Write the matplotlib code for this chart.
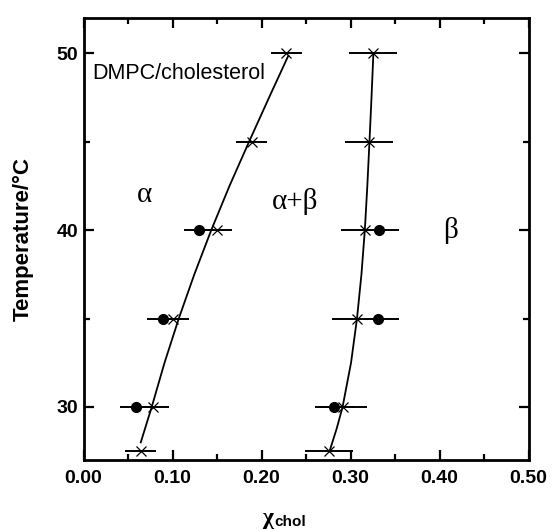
import matplotlib.pyplot as plt
from matplotlib.ticker import MultipleLocator

# boundary points (x marks with error bars)
temp = [27.5, 30, 35, 40, 45, 50]
left_x = [0.064, 0.0785, 0.101, 0.150, 0.189, 0.228]
left_err = [0.017, 0.018, 0.017, 0.017, 0.0175, 0.017]
right_x = [0.2755, 0.291, 0.3076, 0.3163, 0.321, 0.3256]
right_err = [0.027, 0.027, 0.0286, 0.027, 0.027, 0.027]

# filled circles
circ_temp = [30, 35, 40]
circ_left = [0.059, 0.0897, 0.130]
circ_left_err = [0.018, 0.018, 0.017]
circ_right = [0.2815, 0.331, 0.332]
circ_right_err = [0.022, 0.023, 0.022]

# boundary curves
curve_t = [28.0, 30, 32.5, 35, 37.5, 40, 42.5, 45, 47.5, 49.85]
curve_left = [0.0643, 0.0766, 0.091, 0.107, 0.1245, 0.1435, 0.164, 0.186, 0.2085, 0.230]
curve_t2 = [27.6, 28.8, 30, 32.5, 35, 37.5, 40, 42.5, 45, 47.5, 50]
curve_right = [0.277, 0.2845, 0.291, 0.3005, 0.3072, 0.3122, 0.316, 0.3188, 0.3212, 0.3235, 0.3256]

fig = plt.figure(figsize=(5.55, 5.3), dpi=100)
ax = fig.add_axes([0.1505, 0.132, 0.802, 0.8345])

ax.plot(curve_left, curve_t, color='black', linewidth=1.3)
ax.plot(curve_right, curve_t2, color='black', linewidth=1.3)

for xs, ts, es in [(left_x, temp, left_err), (right_x, temp, right_err),
				   (circ_left, circ_temp, circ_left_err), (circ_right, circ_temp, circ_right_err)]:
	ax.errorbar(xs, ts, xerr=es, fmt='none', ecolor='black', elinewidth=1.4, capsize=0)

ax.plot(left_x, temp, linestyle='none', marker='x', color='black', markersize=7.5, markeredgewidth=0.9)
ax.plot(right_x, temp, linestyle='none', marker='x', color='black', markersize=7.5, markeredgewidth=0.9)
ax.plot(circ_left, circ_temp, 'o', color='black', markersize=7)
ax.plot(circ_right, circ_temp, 'o', color='black', markersize=7)

ax.set_xlim(0, 0.5)
ax.set_ylim(27, 52)
ax.xaxis.set_minor_locator(MultipleLocator(0.05))
ax.yaxis.set_major_locator(MultipleLocator(10))
ax.yaxis.set_minor_locator(MultipleLocator(5))
ax.set_xticks([0, 0.1, 0.2, 0.3, 0.4, 0.5])
ax.set_xticklabels(['0.00', '0.10', '0.20', '0.30', '0.40', '0.50'])
ax.tick_params(which='both', direction='in', top=True, right=True, width=1.6)
ax.tick_params(which='major', length=7, pad=7)
ax.tick_params(which='minor', length=4)
ax.tick_params(axis='y', which='major', pad=4)
for lab in ax.get_xticklabels() + ax.get_yticklabels():
	lab.set_fontsize(14)
	lab.set_fontweight('bold')
	lab.set_fontfamily('Liberation Sans')
for s in ax.spines.values():
	s.set_linewidth(2)

ax.set_ylabel('Temperature/°C', fontsize=16, fontweight='bold', family='Liberation Sans', labelpad=16)

ax.text(0.01, 48.85, 'DMPC/cholesterol', fontsize=15.5, family='Liberation Sans', va='center')
ax.text(0.069, 42.0, 'α', fontsize=21, family='Liberation Serif', ha='center', va='center')
ax.text(0.2375, 41.6, 'α+β', fontsize=21, family='Liberation Serif', ha='center', va='center')
ax.text(0.4125, 40.0, 'β', fontsize=21, family='Liberation Serif', ha='center', va='center')

fig.text(0.492, 0.021, 'χ', fontsize=17, fontweight='bold', family='Liberation Serif', ha='right', va='center')
fig.text(0.494, 0.008, 'chol', fontsize=11, fontweight='bold', family='Liberation Sans', ha='left', va='baseline')

plt.savefig('out.png', dpi=100)
